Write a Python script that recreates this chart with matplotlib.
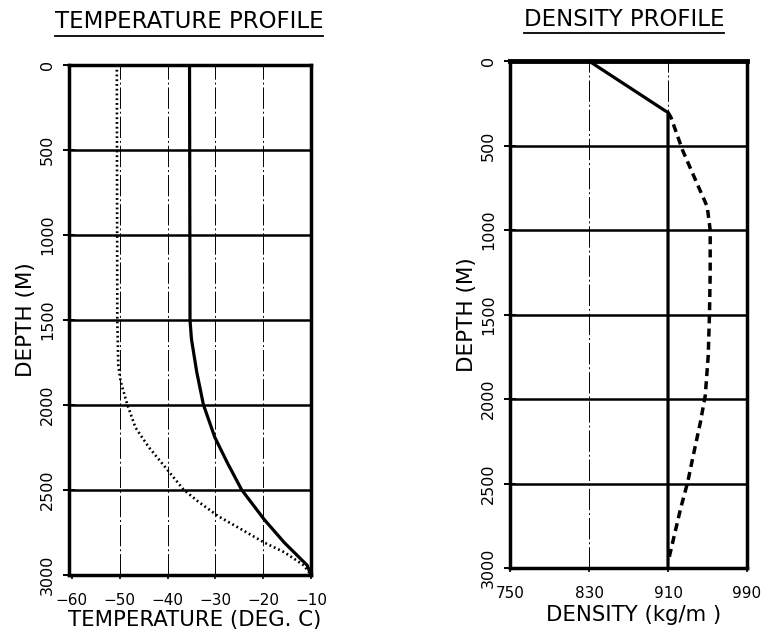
import numpy as np
import matplotlib
matplotlib.use("Agg")
import matplotlib.pyplot as plt
from matplotlib.lines import Line2D

# temperature profile (deg C vs depth m)
temp_depth_solid = [0, 1500, 1612, 1805, 1998, 2191, 2345, 2499, 2673, 2809, 2943, 3000]
temp_solid = [-35.4, -35.3, -35.0, -33.9, -32.5, -30.1, -27.4, -24.5, -19.8, -15.6, -10.8, -10.0]
temp_depth_dot = [0, 1500, 1766, 1862, 1998, 2133, 2249, 2365, 2496, 2568, 2654,
                  2731, 2809, 2866, 2943, 3000]
temp_dot = [-50.6, -50.5, -50.3, -49.8, -48.4, -46.7, -43.9, -40.5, -36.7, -33.6, -29.4,
            -24.6, -19.8, -15.6, -11.5, -10.0]
temp_ticks = [-60, -50, -40, -30, -20, -10]

# density profile (kg/m3 vs depth m)
dens_depth_solid = [0, 294, 304, 3000]
dens_solid = [830, 907, 910, 910]
dens_depth_dash = [304, 334, 529, 706, 862, 1000, 1254, 1494, 1745, 1980, 2137,
                   2333, 2490, 2647, 2784, 2921, 2960]
dens_dash = [910, 913, 924.8, 938, 949.7, 952.7, 952.7, 952, 950.7, 947.7, 942.8,
             935.6, 930, 922.8, 917.3, 911.8, 910.5]
dens_ticks = [750, 830, 910, 990]

depth_ticks = [0, 500, 1000, 1500, 2000, 2500, 3000]

plt.rcParams['font.family'] = ['DejaVu Sans']

fig = plt.figure(figsize=(7.71, 6.35), dpi=100)
ax1 = fig.add_axes([0.0895, 0.0945, 0.3139, 0.8031])
ax2 = fig.add_axes([0.6615, 0.1055, 0.3074, 0.7984])

thin = (0, (22, 3, 2, 3))


def setup(ax, xticks):
    for d in depth_ticks[1:-1]:
        ax.axhline(d, color='black', lw=1.8, zorder=1)
    for x in xticks[1:-1]:
        ax.axvline(x, color='black', lw=0.7, linestyle=thin, zorder=1)
    ax.set_ylim(3000, 0)
    ax.set_yticks(depth_ticks)
    ax.set_xticks(xticks)
    for s in ax.spines.values():
        s.set_linewidth(2.5)
    ax.tick_params(axis='y', direction='inout', length=8, width=1.4,
                   labelsize=11.5, labelrotation=90, pad=6)
    ax.tick_params(axis='x', direction='out', length=3, width=1.2,
                   labelsize=11, pad=10)
    for lab in ax.get_yticklabels():
        lab.set_verticalalignment('center')


# left: temperature
setup(ax1, temp_ticks)
ax1.set_xlim(-60.6, -10)
ax1.plot(temp_solid, temp_depth_solid, color='black', lw=2.3, zorder=3)
ax1.plot(temp_dot, temp_depth_dot, color='black', lw=1.9,
         linestyle=(0, (0.7, 1.1)), zorder=3)
ax1.set_xlabel('TEMPERATURE (DEG. C)', fontsize=15.3)
ax1.set_ylabel('DEPTH (M)', fontsize=15.5)
ax1.xaxis.set_label_coords(0.52, -0.068)
ax1.yaxis.set_label_coords(-0.135, 0.5)

# right: density
setup(ax2, dens_ticks)
ax2.set_xlim(750, 990)
ax2.spines['top'].set_linewidth(3.5)
ax2.plot(dens_solid, dens_depth_solid, color='black', lw=2.3, zorder=3)
ax2.plot(dens_dash, dens_depth_dash, color='black', lw=2.5,
         linestyle=(0, (2.3, 1.5)), zorder=3)
ax2.set_xlabel('DENSITY (kg/m )', fontsize=15.3)
ax2.set_ylabel('DEPTH (M)', fontsize=15.5)
ax2.xaxis.set_label_coords(0.52, -0.072)
ax2.yaxis.set_label_coords(-0.14, 0.5)

# underlined titles
t1 = fig.text(189 / 771, 1 - 22 / 635, 'TEMPERATURE PROFILE', fontsize=16.5,
              ha='center', va='center')
t2 = fig.text(624 / 771, 1 - 19 / 635, 'DENSITY PROFILE', fontsize=16.5,
              ha='center', va='center')
fig.canvas.draw()
W, H = fig.bbox.width, fig.bbox.height
for t in (t1, t2):
    bb = t.get_window_extent()
    y = (bb.y0 - 2) / H
    fig.add_artist(Line2D([bb.x0 / W, bb.x1 / W], [y, y], color='black',
                          lw=1.3, transform=fig.transFigure))

fig.savefig('out.png', dpi=100)
